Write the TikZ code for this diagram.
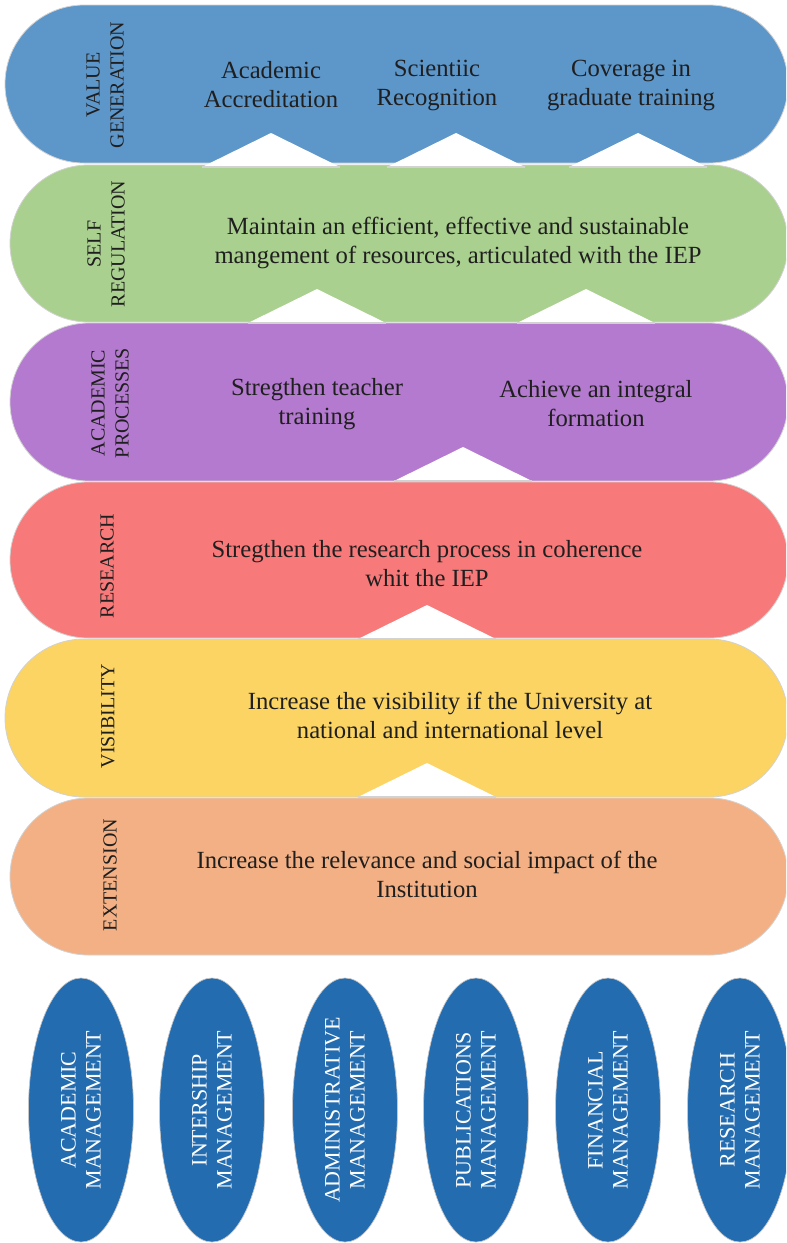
\documentclass[tikz,border=0pt]{standalone}
\usepackage{fontspec}
\setmainfont{Liberation Serif}
\usetikzlibrary{shapes.geometric}

\definecolor{valueblue}{RGB}{93,150,201}
\definecolor{selfgreen}{RGB}{169,208,142}
\definecolor{acadpurple}{RGB}{180,122,207}
\definecolor{resred}{RGB}{248,121,121}
\definecolor{visyellow}{RGB}{251,212,100}
\definecolor{extorange}{RGB}{243,176,132}
\definecolor{mgmtblue}{RGB}{35,108,176}

\tikzset{
  band/.style={draw=gray!35, line width=0.6pt},
  bandtext/.style={inner sep=0.75pt, align=center, text=black!88, font=\fontsize{18.5}{21.75}\selectfont},
  bandlabel/.style={inner sep=0.75pt, align=center, rotate=90, text=black!88, font=\fontsize{15}{18}\selectfont},
  mgmt/.style={ellipse, fill=mgmtblue, draw=gray!45, line width=0.5pt, minimum width=78.75pt, minimum height=198pt, inner sep=0pt},
  mgmttext/.style={align=center, rotate=90, text=white, font=\fontsize{16.5}{18.75}\selectfont}
}

\begin{document}
\begin{tikzpicture}[x=0.75pt,y=0.75pt,yscale=-1,xscale=1]
\useasboundingbox (0,0) rectangle (786,1243);
\clip (0,0) rectangle (786,1243);

%Shape: Value generation band
\draw [band, fill=valueblue] (84,5) -- (709,5) arc (-90:90:79) -- (84,163) arc (90:270:79) -- cycle ;
%Shape: Self regulation band
\draw [band, fill=selfgreen] (88.5,165) -- (709.5,165) arc (-90:90:78.5) -- (88.5,322) arc (90:270:78.5) -- cycle ;
%Shape: Academic processes band
\draw [band, fill=acadpurple] (89,323) -- (709,323) arc (-90:90:79) -- (89,481) arc (90:270:79) -- cycle ;
%Shape: Research band
\draw [band, fill=resred] (88,482) -- (710,482) arc (-90:90:78) -- (88,638) arc (90:270:78) -- cycle ;
%Shape: Visibility band
\draw [band, fill=visyellow] (84,639) -- (709,639) arc (-90:90:79) -- (84,797) arc (90:270:79) -- cycle ;
%Shape: Extension band
\draw [band, fill=extorange] (88.5,798) -- (709.5,798) arc (-90:90:78.5) -- (88.5,955) arc (90:270:78.5) -- cycle ;

%Shape: white notches between bands
\foreach \ax/\ay in {271/133, 456/133, 638/133, 317/289, 586/289, 463/447, 427/605, 427/763} {
  \fill [white] ({\ax-69},{\ay+34}) -- (\ax,\ay) -- ({\ax+69},{\ay+34}) -- cycle ;
  \draw [gray!35, line width=0.8pt] ({\ax-69},{\ay+34}) -- ({\ax+69},{\ay+34}) ;
}

% Text Node
\node [bandlabel] (vallbl) at (105,85) {VALUE\\GENERATION};
% Text Node
\node [bandtext] (accred) at (271,85) {Academic\\Accreditation};
% Text Node
\node [bandtext] (scirec) at (437,85) {Scientiic\\Recognition};
% Text Node
\node [bandtext] (gradcov) at (631,85) {Coverage in\\graduate training};

% Text Node
\node [bandlabel] (selflbl) at (106,244) {SELF\\REGULATION};
% Text Node
\node [bandtext] (maintain) at (458,243) {Maintain an efficient, effective and sustainable\\mangement of resources, articulated with the IEP};

% Text Node
\node [bandlabel] (acadlbl) at (110,403) {ACADEMIC\\PROCESSES};
% Text Node
\node [bandtext] (teacher) at (317,404) {Stregthen teacher\\training};
% Text Node
\node [bandtext] (integral) at (596,404) {Achieve an integral\\formation};

% Text Node
\node [bandlabel] (reslbl) at (107,566) {RESEARCH};
% Text Node
\node [bandtext] (resproc) at (427,564) {Stregthen the research process in coherence\\whit the IEP};

% Text Node
\node [bandlabel] (vislbl) at (108,716) {VISIBILITY};
% Text Node
\node [bandtext] (visib) at (450,715) {Increase the visibility if the University at\\national and international level};

% Text Node
\node [bandlabel] (extlbl) at (110,875) {EXTENSION};
% Text Node
\node [bandtext] (relev) at (427,874) {Increase the relevance and social impact of the\\Institution};

%Shape: management ellipses
\node [mgmt] (acadmgmt) at (81,1110) {};
\node [mgmt] (intmgmt) at (212,1110) {};
\node [mgmt] (admmgmt) at (345,1110) {};
\node [mgmt] (pubmgmt) at (476,1110) {};
\node [mgmt] (finmgmt) at (608,1110) {};
\node [mgmt] (resmgmt) at (740,1110) {};

% Text Node
\node [mgmttext] at (acadmgmt) {ACADEMIC\\MANAGEMENT};
% Text Node
\node [mgmttext] at (intmgmt) {INTERSHIP\\MANAGEMENT};
% Text Node
\node [mgmttext] at (admmgmt) {ADMINISTRATIVE\\MANAGEMENT};
% Text Node
\node [mgmttext] at (pubmgmt) {PUBLICATIONS\\MANAGEMENT};
% Text Node
\node [mgmttext] at (finmgmt) {FINANCIAL\\MANAGEMENT};
% Text Node
\node [mgmttext] at (resmgmt) {RESEARCH\\MANAGEMENT};

\end{tikzpicture}
\end{document}
